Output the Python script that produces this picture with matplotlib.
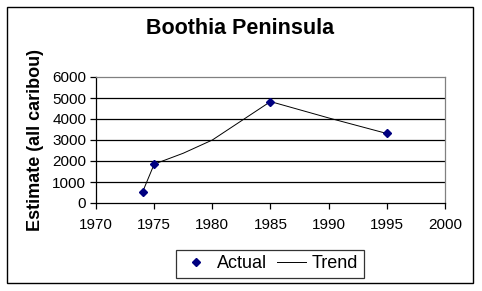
import matplotlib.pyplot as plt
from matplotlib.lines import Line2D
from matplotlib.patches import Rectangle

plt.rcParams['font.family'] = ['Liberation Sans', 'DejaVu Sans']

# data
actual_years = [1974, 1975, 1985, 1995]
actual_vals = [520, 1850, 4830, 3310]
trend_years = [1974, 1975, 1977.5, 1980, 1985, 1990, 1995]
trend_vals = [520, 1850, 2370, 3000, 4830, 4050, 3310]
xticks = [1970, 1975, 1980, 1985, 1990, 1995, 2000]
yticks = [0, 1000, 2000, 3000, 4000, 5000, 6000]

fig = plt.figure(figsize=(4.82, 2.91), dpi=100)
fig.patches.append(Rectangle((7/482, 1-283/291), 466/482, 276/291, transform=fig.transFigure,
                             fill=False, edgecolor='black', linewidth=1))

ax = fig.add_axes([96/482, 1-203/291, 349/482, 126/291])
ax.plot(trend_years, trend_vals, color='black', linewidth=0.7)
ax.plot(actual_years, actual_vals, linestyle='none', marker='D', markersize=4.5,
        color='#000080', markeredgecolor='#000080')

ax.set_xlim(1970, 2000)
ax.set_ylim(0, 6000)
ax.set_xticks(xticks)
ax.set_yticks(yticks)
for y in yticks[1:-1]:
    ax.axhline(y, color='black', linewidth=0.9, zorder=0)

ax.spines['left'].set_color('black')
ax.spines['bottom'].set_color('black')
ax.spines['top'].set_color('#808080')
ax.spines['right'].set_color('#808080')
for s in ax.spines.values():
    s.set_linewidth(0.9)
ax.tick_params(direction='out', length=4, width=0.9, labelsize=11, pad=3)
ax.tick_params(axis='x', pad=7)

ax.set_ylabel('Estimate (all caribou)', fontsize=13, fontweight='bold', labelpad=6)
fig.text(240/482, 1-29/291, 'Boothia Peninsula', ha='center', va='center',
         fontsize=15.5, fontweight='bold')

handles = [Line2D([], [], linestyle='none', marker='D', markersize=4.5, color='#000080'),
           Line2D([], [], color='black', linewidth=0.7)]
leg = fig.legend(handles, ['Actual', 'Trend'], loc='center', bbox_to_anchor=(270/482, 1-264/291),
                 ncol=2, fontsize=13, frameon=True, fancybox=False, edgecolor='black',
                 handlelength=1.6, columnspacing=0.55, handletextpad=0.35, borderpad=0.3,
                 borderaxespad=0)
leg.get_frame().set_linewidth(0.9)

fig.savefig('out.png', dpi=100)
